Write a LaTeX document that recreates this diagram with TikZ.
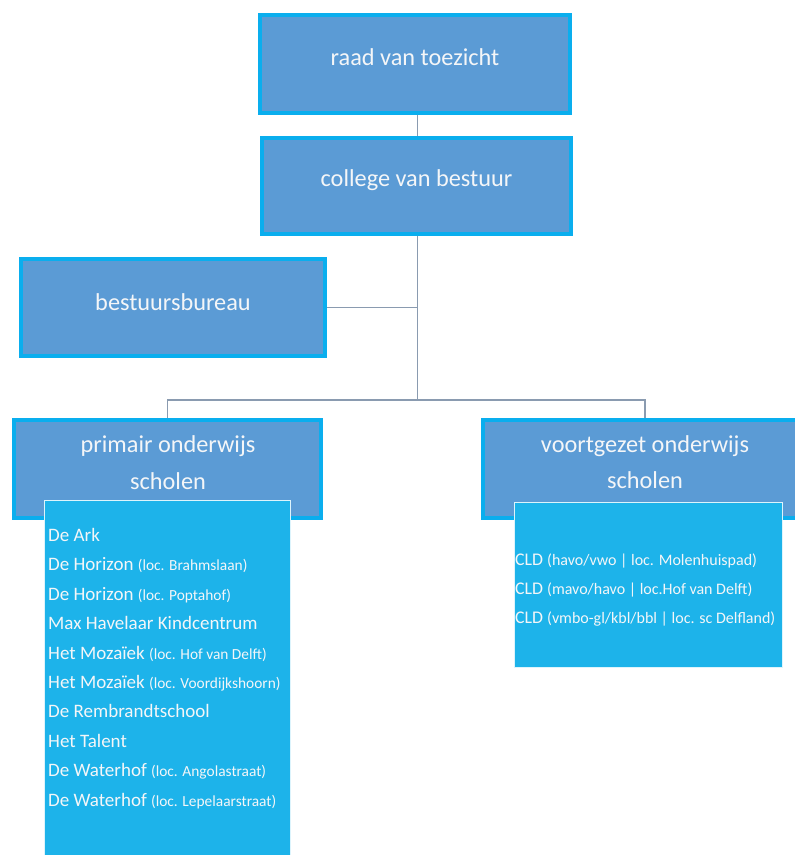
\documentclass[tikz,border=0pt]{standalone}
\usepackage{fontspec}
\setmainfont{Carlito}
\definecolor{boxfill}{HTML}{5B9BD5}
\definecolor{boxline}{HTML}{0AAEEE}
\definecolor{listfill}{HTML}{1DB3EA}
\definecolor{conn}{HTML}{8A9BB0}
\definecolor{txt}{HTML}{F4F6F8}
\pgfdeclarelayer{bg}
\pgfsetlayers{bg,main}
\tikzset{
  orgbox/.style={draw=boxline, line width=4pt, fill=boxfill, inner sep=0pt, outer sep=0pt},
  listbox/.style={draw=white!85!listfill, line width=1pt, fill=listfill, inner sep=0pt, outer sep=0pt},
  title/.style={text=txt, font=\fontsize{24.3}{37}\selectfont, inner sep=0pt, anchor=base},
  items/.style={text=txt, align=left, inner sep=0pt, anchor=base west, font=\fontsize{19}{29.4}\selectfont},
  link/.style={draw=conn, line width=1.6pt}
}
\newcommand{\sm}[1]{{\fontsize{15.4}{29.4}\selectfont #1}}
\newcommand{\smr}[1]{{\fontsize{16}{29.4}\selectfont #1}}
\begin{document}
\begin{tikzpicture}[x=1pt,y=-1pt]
\useasboundingbox (0,0) rectangle (795,855);
\clip (0,0) rectangle (795,855);
% boxes
\node[orgbox, minimum width=310pt, minimum height=98pt] (raad) at (415,64) {};
\node[orgbox, minimum width=309pt, minimum height=96pt] (college) at (416.5,186) {};
\node[orgbox, minimum width=304pt, minimum height=97pt] (bureau) at (173,307.5) {};
\node[orgbox, minimum width=307pt, minimum height=98pt] (po) at (167.5,469) {};
\node[orgbox, minimum width=324pt, minimum height=98pt] (vo) at (645,469) {};
% list boxes
\node[listbox, minimum width=246pt, minimum height=360pt, anchor=north west] (polist) at (44.5,500.5) {};
\node[listbox, minimum width=268pt, minimum height=165pt, anchor=north west] (volist) at (514.5,502.5) {};
% titles
\node[title] (raadT) at (415,65) {raad van toezicht};
\node[title] (collegeT) at (416.5,186) {college van bestuur};
\node[title] (bureauT) at (173,310) {bestuursbureau};
\node[title] (poT1) at (168,452) {primair onderwijs};
\node[title] (poT2) at (168,489) {scholen};
\node[title] (voT1) at (645,452) {voortgezet onderwijs};
\node[title] (voT2) at (645,488) {scholen};
% lists (base anchor = last line's baseline)
\node[items] (poItems) at (48,806) {De Ark\\
De Horizon \sm{(loc. Brahmslaan)}\\
De Horizon \sm{(loc. Poptahof)}\\
Max Havelaar Kindcentrum\\
Het Mozaïek \sm{(loc. Hof van Delft)}\\
Het Mozaïek \sm{(loc. Voordijkshoorn)}\\
De Rembrandtschool\\
Het Talent\\
De Waterhof \sm{(loc. Angolastraat)}\\
De Waterhof \sm{(loc. Lepelaarstraat)}};
\node[items, font=\fontsize{17.8}{29}\selectfont] (voItems) at (515,623) {CLD \smr{(havo/vwo | loc. Molenhuispad)}\\
CLD \smr{(mavo/havo | loc.Hof van Delft)}\\
CLD \smr{(vmbo-gl/kbl/bbl | loc. sc Delfland)}};
% connectors
\coordinate (spine) at (417.5,400);
\begin{pgfonlayer}{bg}
\draw[link] (raad.south -| spine) -- (college.north -| spine);
\draw[link] (college.south -| spine) -- (spine);
\draw[link] (bureau.east) -- (bureau.east -| spine);
\draw[link] (po.north) |- (spine) -| (vo.north);
\end{pgfonlayer}
\end{tikzpicture}
\end{document}
